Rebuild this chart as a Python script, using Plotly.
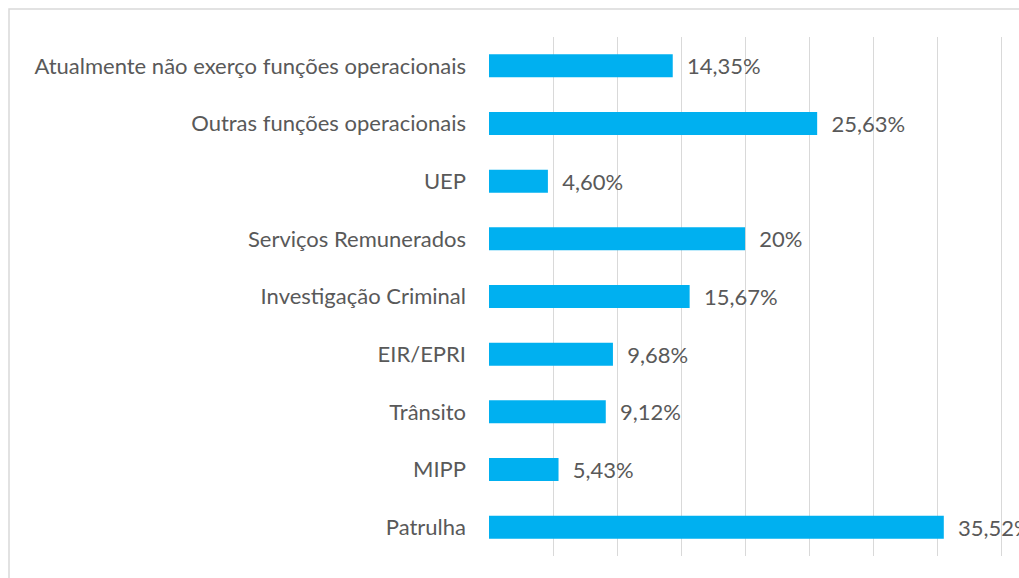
import plotly.graph_objects as go

categories = ["Patrulha", "MIPP", "Trânsito", "EIR/EPRI", "Investigação Criminal",
              "Serviços Remunerados", "UEP", "Outras funções operacionais",
              "Atualmente não exerço funções operacionais"]
values = [35.52, 5.43, 9.12, 9.68, 15.67, 20, 4.60, 25.63, 14.35]
labels = ["35,52%", "5,43%", "9,12%", "9,68%", "15,67%", "20%", "4,60%", "25,63%", "14,35%"]

FONT = "Lato"
TXT = "#595959"
FS = 22

W, H = 1019, 578
L, T, R, B = 489, 37, 14, 22
PW, PH = W - L - R, H - T - B

fig = go.Figure(go.Bar(
    y=categories, x=values, orientation="h",
    marker=dict(color="#00B0F0", line=dict(width=0)),
    text=["  " + l for l in labels], textposition="outside",
    textfont=dict(family=FONT, size=FS, color=TXT),
    constraintext="none",
    cliponaxis=False, width=0.4,
))

fig.update_layout(
    width=W, height=H,
    margin=dict(l=L, r=R, t=T, b=B),
    paper_bgcolor="white", plot_bgcolor="white",
    showlegend=False,
    font=dict(family=FONT, size=FS, color=TXT),
    uniformtext=dict(minsize=FS, mode="show"),
    xaxis=dict(range=[0, 40.3], tick0=0, dtick=5, showgrid=True, gridcolor="#d9d9d9", gridwidth=1,
               showticklabels=False, zeroline=False, showline=False, fixedrange=True),
    yaxis=dict(showgrid=False, zeroline=False, showline=False, ticks="",
               ticklabelstandoff=22, tickfont=dict(family=FONT, size=FS, color=TXT)),
    shapes=[dict(type="rect", xref="paper", yref="paper",
                 x0=(9 - L) / PW, x1=1.2, y0=-0.2, y1=1 + (T - 9) / PH,
                 line=dict(color="#d9d9d9", width=1.5), layer="below")],
)

fig.write_html(
    "out.html",
    config={"displayModeBar": False},
    post_script="document.body.style.margin='0';document.body.style.overflow='hidden';",
)
